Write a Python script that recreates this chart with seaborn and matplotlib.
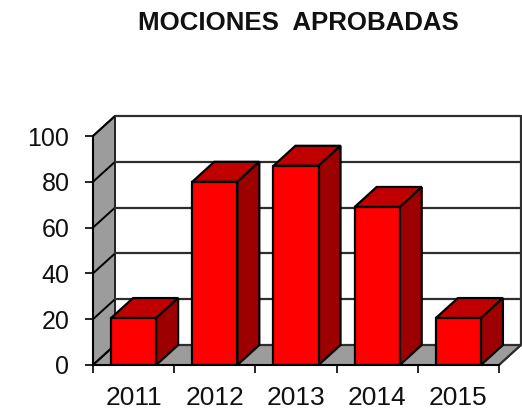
import matplotlib
matplotlib.use("Agg")
import matplotlib.pyplot as plt
from matplotlib.patches import Polygon
import seaborn as sns

years = ["2011", "2012", "2013", "2014", "2015"]
values = [20.5, 80, 87, 69, 20.5]
y_ticks = [0, 20, 40, 60, 80, 100]
title = "MOCIONES  APROBADAS"

W, H = 522, 409
sns.set_theme(style="white")
plt.rcParams["font.family"] = ["Liberation Sans", "DejaVu Sans"]

fig = plt.figure(figsize=(W / 100, H / 100), dpi=100, facecolor="white")
ax = fig.add_axes([93 / W, 1 - 365 / H, 406 / W, 229 / H])
ax.patch.set_visible(False)

sns.barplot(x=years, y=values, color="#ff0000", saturation=1, width=0.555,
            edgecolor="black", linewidth=1.6, ax=ax, zorder=5)
ax.set_xlim(-0.5, 4.5)
ax.set_ylim(0, 100)

# oblique depth of the fake 3D box, in data units
DX = 22 / 81.2
DY = 20 / 2.29
x0, x1 = ax.get_xlim()
GRAY = "#9c9c9c"
LINE = "#2e2e2e"

# side wall and floor
ax.add_patch(Polygon([(x0, 0), (x0 + DX, DY), (x0 + DX, 100 + DY), (x0, 100)],
                     fc=GRAY, ec="#222222", lw=1.4, clip_on=False, zorder=1))
ax.add_patch(Polygon([(x0, 0), (x1, 0), (x1 + DX, DY), (x0 + DX, DY)],
                     fc=GRAY, ec="#222222", lw=1.4, clip_on=False, zorder=1))

# grid lines on walls
for t in y_ticks:
    ax.plot([x0, x0 + DX], [t, t + DY], color="black", lw=1.4, clip_on=False, zorder=2)
    ax.plot([x0 + DX, x1 + DX], [t + DY, t + DY], color=LINE, lw=1.6,
            clip_on=False, zorder=2)
ax.plot([x1 + DX, x1 + DX], [DY, 100 + DY], color=LINE, lw=1.6, clip_on=False, zorder=2)
ax.plot([x1, x1 + DX], [0, DY], color=LINE, lw=1.4, clip_on=False, zorder=2)

# top and side faces of each bar
for bar in ax.patches[:]:
    if bar.get_zorder() != 5:
        continue
    l, r, v = bar.get_x(), bar.get_x() + bar.get_width(), bar.get_height()
    ax.add_patch(Polygon([(l, v), (r, v), (r + DX, v + DY), (l + DX, v + DY)],
                         fc="#c00000", ec="black", lw=1.6, clip_on=False, zorder=4))
    ax.add_patch(Polygon([(r, 0), (r + DX, DY), (r + DX, v + DY), (r, v)],
                         fc="#9c0000", ec="black", lw=1.6, clip_on=False, zorder=4))

for s in ["top", "right"]:
    ax.spines[s].set_visible(False)
for s in ["left", "bottom"]:
    ax.spines[s].set_color("black")
    ax.spines[s].set_linewidth(1.5)
    ax.spines[s].set_zorder(6)

ax.set_yticks(y_ticks)
ax.set_xticks([i - 0.5 for i in range(len(years) + 1)], minor=True)
ax.set_xticks(range(len(years)))
ax.set_xticklabels(years)
ax.tick_params(axis="x", which="major", length=0, pad=15, labelsize=19, colors="#111111")
ax.tick_params(axis="x", which="minor", length=6, width=1.2, color="black", bottom=True)
ax.tick_params(axis="y", length=6, width=1.2, color="black", left=True, pad=11,
               labelsize=18, labelcolor="#111111")
ax.set_xlabel("")
ax.set_ylabel("")

fig.text(298 / W, 1 - 23 / H, title, ha="center", va="center",
         fontsize=18.6, fontweight="bold", color="#111111")

fig.savefig("out.png", dpi=100)
